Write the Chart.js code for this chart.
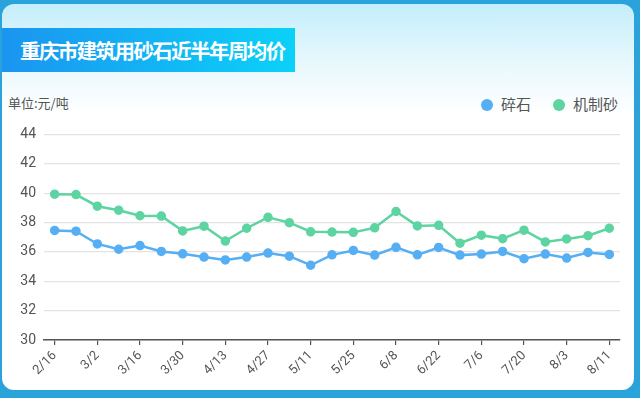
<!DOCTYPE html>
<html>
<head>
<meta charset="utf-8">
<script src="https://cdn.jsdelivr.net/npm/chart.js@4/dist/chart.umd.min.js"></script>
<style>
  html, body { margin: 0; padding: 0; }
  body {
    width: 640px; height: 398px; overflow: hidden;
    background: #2aa3da;
    font-family: "Noto Sans CJK SC", "Noto Sans", sans-serif;
    position: relative;
  }
  .card {
    position: absolute; left: 2px; top: 4px; width: 632px; height: 386px;
    border-radius: 12px;
    background: linear-gradient(to bottom, #c4eefb 0px, #e8f8fd 60px, #ffffff 110px, #ffffff 100%);
  }
  .banner {
    position: absolute; left: 2px; top: 28px; width: 293px; height: 44px;
    background: linear-gradient(to right, #1b95f0, #0bd1f8);
  }
  .banner span {
    position: absolute; left: 18px; top: 0; line-height: 44px;
    color: #fff; font-weight: bold; font-size: 20.5px;
    letter-spacing: -1.6px; white-space: nowrap;
  }
  .unit {
    position: absolute; left: 8px; top: 94px;
    font-size: 13px; color: #555; line-height: 18px;
  }
  .legend {
    position: absolute; left: 481px; top: 94px; height: 20px;
    font-size: 15px; color: #555; line-height: 20px; white-space: nowrap;
  }
  .legend i {
    display: inline-block; width: 12px; height: 12px; border-radius: 50%;
    vertical-align: -1px; margin-right: 8px;
  }
  .legend b { font-weight: normal; margin-right: 22px; }
  #wrap { position: absolute; left: 0; top: 118px; width: 640px; height: 272px; }
</style>
</head>
<body>
<div class="card"></div>
<div class="banner"><span>重庆市建筑用砂石近半年周均价</span></div>
<div class="unit">单位:元/吨</div>
<div class="legend" id="legend"></div>
<div id="wrap"><canvas id="chart" width="640" height="272"></canvas></div>
<script>
// 周期（每隔一个显示标签）
const dates = [
  '2/16', '2/23', '3/2', '3/9', '3/16', '3/23', '3/30', '4/6', '4/13',
  '4/20', '4/27', '5/4', '5/11', '5/18', '5/25', '6/1', '6/8', '6/15',
  '6/22', '6/29', '7/6', '7/13', '7/20', '7/27', '8/3', '8/7', '8/11'
];

// 碎石 周均价
const gravel = [
  37.46, 37.41, 36.54, 36.18, 36.43, 36.03, 35.87, 35.65, 35.45,
  35.65, 35.92, 35.71, 35.09, 35.80, 36.10, 35.78, 36.31, 35.80,
  36.30, 35.78, 35.85, 36.03, 35.54, 35.85, 35.58, 35.96, 35.83
];

// 机制砂 周均价
const sand = [
  39.93, 39.90, 39.11, 38.84, 38.46, 38.44, 37.43, 37.75, 36.74,
  37.61, 38.35, 37.99, 37.37, 37.35, 37.33, 37.64, 38.75, 37.77,
  37.81, 36.59, 37.14, 36.90, 37.48, 36.68, 36.88, 37.10, 37.61
];

const seriesNames = ['碎石', '机制砂'];
const seriesColors = ['#56aef3', '#5dd4a1'];
const yTicks = { min: 30, max: 44, step: 2 };

// Légende HTML
const legend = document.getElementById('legend');
seriesNames.forEach((name, i) => {
  legend.innerHTML += `<i style="background:${seriesColors[i]}"></i><b>${name}</b>`;
});

const ctx = document.getElementById('chart').getContext('2d');
new Chart(ctx, {
  type: 'line',
  data: {
    labels: dates,
    datasets: [gravel, sand].map((values, i) => ({
      label: seriesNames[i],
      data: values,
      borderColor: seriesColors[i],
      backgroundColor: seriesColors[i],
      pointBackgroundColor: seriesColors[i],
      pointBorderColor: seriesColors[i],
      borderWidth: 2.5,
      pointRadius: 3.5,
      tension: 0,
      fill: false
    }))
  },
  options: {
    responsive: false,
    animation: false,
    layout: { padding: { top: 13, right: 20, left: 0, bottom: 0 } },
    plugins: {
      legend: { display: false },
      tooltip: { enabled: false }
    },
    scales: {
      x: {
        offset: true,
        grid: {
          display: true,
          drawOnChartArea: false,
          drawTicks: true,
          tickLength: 5,
          lineWidth: 1.2,
          color: c => (c.index % 2 === 0 ? '#555' : 'rgba(0,0,0,0)')
        },
        border: { display: true, color: '#555', width: 1.5 },
        ticks: {
          autoSkip: false,
          minRotation: 45,
          maxRotation: 45,
          padding: 3,
          color: '#555',
          font: { size: 13, family: 'Roboto, "Noto Sans", sans-serif' },
          callback: (v, i) => (i % 2 === 0 ? dates[i] : '')
        },
        afterFit: scale => { scale.height = 50; }
      },
      y: {
        min: yTicks.min,
        max: yTicks.max,
        grid: { color: '#e3e3e3', lineWidth: 1.2, drawTicks: false },
        border: { display: false },
        ticks: {
          stepSize: yTicks.step,
          padding: 8,
          color: '#555',
          font: { size: 14, family: 'Roboto, "Noto Sans", sans-serif' }
        },
        afterFit: scale => { scale.width = 44; }
      }
    }
  }
});
</script>
</body>
</html>
